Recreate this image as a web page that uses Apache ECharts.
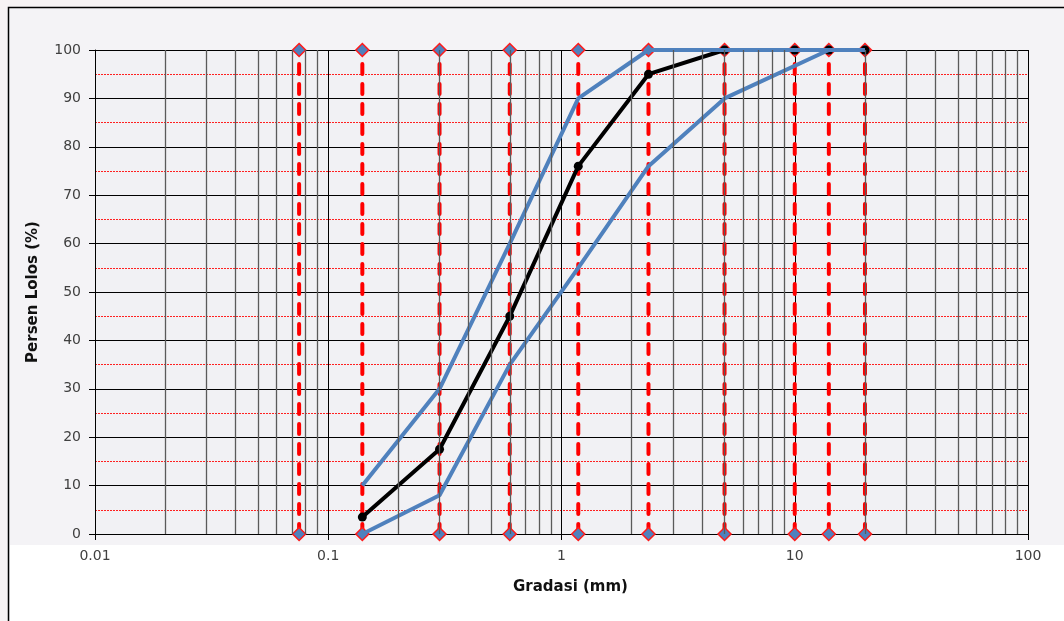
<!DOCTYPE html>
<html>
<head>
<meta charset="utf-8">
<script src="https://cdn.jsdelivr.net/npm/echarts@6/dist/echarts.min.js"></script>
<style>
html,body{margin:0;padding:0;background:#f7f3f4;}
#chart{width:1064px;height:621px;}
</style>
</head>
<body>
<div id="chart"></div>
<script>
// Sieve sizes (mm) for the red dashed vertical lines
var sieveSizes = [0.075, 0.14, 0.3, 0.6, 1.18, 2.36, 5, 10, 14, 20];
// Passing percentages (black curve)
var passSizes = [0.14, 0.3, 0.6, 1.18, 2.36, 5, 10, 14, 20];
var passValues = [3.5, 17.5, 45, 76, 95, 100, 100, 100, 100];
// Upper limit (blue)
var upperSizes = [0.14, 0.3, 0.6, 1.18, 2.36, 5, 10, 14, 20];
var upperValues = [10, 30, 60, 90, 100, 100, 100, 100, 100];
// Lower limit (blue)
var lowerSizes = [0.14, 0.3, 0.6, 1.18, 2.36, 5, 14, 20];
var lowerValues = [0, 8, 35, 55, 76, 90, 100, 100];
// Axis labels
var xTickLabels = ['0.01', '0.1', '1', '10', '100'];
var yTicks = [0, 10, 20, 30, 40, 50, 60, 70, 80, 90, 100];
// Minor log grid positions
var minorX = [];
[0.01, 0.1, 1, 10].forEach(function (d) {
  for (var k = 2; k <= 9; k++) minorX.push(+(k * d).toPrecision(3));
});

function pairs(xs, ys) { return xs.map(function (x, i) { return [x, ys[i]]; }); }

var series = [];
series.push({
  type: 'line', data: [], z: 1, silent: true,
  markLine: {
    silent: true, symbol: 'none', label: {show: false},
    lineStyle: {color: '#5a5a5a', width: 1.3, type: 'solid'},
    data: minorX.map(function (v) { return {xAxis: v}; })
  }
});
sieveSizes.forEach(function (s) {
  series.push({
    type: 'line', z: 2, silent: true,
    data: [[s, 0], [s, 100]],
    symbol: 'diamond', symbolSize: 13, showSymbol: true,
    itemStyle: {color: '#4f81bd', borderColor: '#ff1a1a', borderWidth: 1.5},
    lineStyle: {color: '#ff0000', width: 4, type: [10, 10], cap: 'round'}
  });
});
series.push({
  type: 'line', z: 3, data: pairs(passSizes, passValues),
  symbol: 'circle', symbolSize: 9, showSymbol: true,
  itemStyle: {color: '#000000'},
  lineStyle: {color: '#000000', width: 4}
});
series.push({
  type: 'line', z: 4, data: pairs(upperSizes, upperValues),
  symbol: 'none', lineStyle: {color: '#4f81bd', width: 4}
});
series.push({
  type: 'line', z: 4, data: pairs(lowerSizes, lowerValues),
  symbol: 'none', lineStyle: {color: '#4f81bd', width: 4}
});

var chart = echarts.init(document.getElementById('chart'), null, {renderer: 'canvas'});
chart.setOption({
  animation: false,
  backgroundColor: '#f7f3f4',
  textStyle: {fontFamily: 'DejaVu Sans'},
  graphic: [{
    type: 'rect', z: -10, silent: true,
    shape: {x: 8.5, y: 7.5, width: 1100, height: 700},
    style: {fill: '#f4f3f6', stroke: '#000', lineWidth: 1.5}
  }, {
    type: 'rect', z: -9, silent: true,
    shape: {x: 10, y: 545, width: 1060, height: 80},
    style: {fill: '#ffffff'}
  }],
  grid: {left: 95, right: 36, top: 50, bottom: 87, show: true, backgroundColor: '#f1f1f4', borderWidth: 0},
  xAxis: {
    type: 'log', logBase: 10, min: 0.01, max: 100,
    name: 'Gradasi (mm)', nameLocation: 'middle', nameGap: 46,
    nameTextStyle: {fontWeight: 'bold', fontSize: 15, color: '#111', fontFamily: 'DejaVu Sans', padding: [0, 0, 0, 18]},
    axisLine: {show: true, lineStyle: {color: '#000', width: 1}},
    axisTick: {show: true, length: 6, lineStyle: {color: '#000'}},
    axisLabel: {
      fontSize: 14, color: '#404040', margin: 15,
      formatter: function (v) {
        var i = Math.round(Math.log10(v)) + 2;
        return xTickLabels[i] !== undefined ? xTickLabels[i] : '';
      }
    },
    splitLine: {show: true, lineStyle: {color: '#000', width: 1}}
  },
  yAxis: {
    type: 'value', min: 0, max: 100, interval: 10,
    name: 'Persen Lolos (%)', nameLocation: 'middle', nameGap: 54,
    nameTextStyle: {fontWeight: 'bold', fontSize: 15, color: '#111', fontFamily: 'DejaVu Sans'},
    axisLine: {show: true, lineStyle: {color: '#000', width: 1}},
    axisTick: {show: true, length: 6, lineStyle: {color: '#000'}},
    axisLabel: {
      fontSize: 14, color: '#404040', margin: 14,
      formatter: function (v) { return yTicks.indexOf(v) >= 0 ? String(v) : ''; }
    },
    splitLine: {show: true, lineStyle: {color: '#000', width: 1}},
    minorTick: {show: false, splitNumber: 2},
    minorSplitLine: {show: true, lineStyle: {color: '#ff2020', width: 1, type: [2, 1]}}
  },
  series: series
});
</script>
</body>
</html>
